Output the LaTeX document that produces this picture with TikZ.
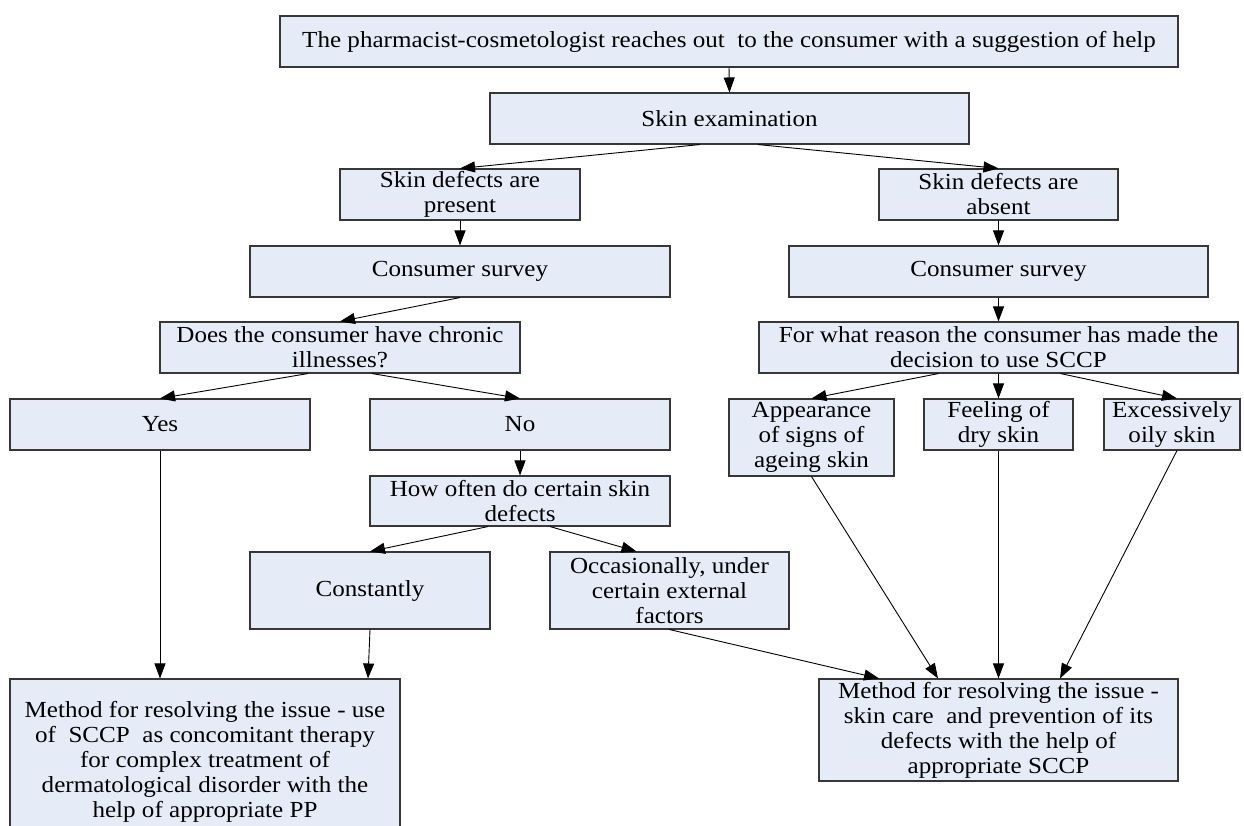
\documentclass[tikz,border=0pt]{standalone}
\usepackage{fontspec}
\setmainfont{Liberation Serif}[FakeStretch=1.09]
\usetikzlibrary{arrows.meta}
\definecolor{boxfill}{RGB}{229,236,247}
\definecolor{boxdraw}{RGB}{55,55,55}
\begin{document}
\begin{tikzpicture}[x=1pt,y=-1pt,
  box/.style={draw=boxdraw,line width=1.1pt,fill=boxfill,inner sep=0pt,align=center,
    font=\fontsize{23}{25}\selectfont},
  arr/.style={-{Triangle[length=15pt,width=11pt]},line width=0.9pt,draw=black}]
\clip (0,0) rectangle (1244,825);
\fill[white] (0,0) rectangle (1244,825);
\node[box,minimum width=898pt,minimum height=51pt] (top) at (729,41.5) {The pharmacist-cosmetologist reaches out\ \ to the consumer with a suggestion of help};
\node[box,minimum width=479pt,minimum height=51pt] (exam) at (729.5,118.5) {Skin examination};
\node[box,minimum width=240pt,minimum height=51pt] (present) at (460,194.5) {Skin defects are\\present};
\node[box,minimum width=239pt,minimum height=51pt] (absent) at (998.5,194.5) {Skin defects are\\absent};
\node[box,minimum width=420pt,minimum height=51pt] (surveyL) at (460,271.5) {Consumer survey};
\node[box,minimum width=419pt,minimum height=51pt] (surveyR) at (998.5,271.5) {Consumer survey};
\node[box,minimum width=360pt,minimum height=51pt] (chronic) at (340,347.5) {Does the consumer have chronic\\illnesses?};
\node[box,minimum width=479pt,minimum height=51pt] (reason) at (998.5,347.5) {For what reason the consumer has made the\\decision to use SCCP};
\node[box,minimum width=300pt,minimum height=51pt] (yes) at (160,424.5) {Yes};
\node[box,minimum width=300pt,minimum height=51pt] (no) at (520,424.5) {No};
\node[box,minimum width=165pt,minimum height=77pt] (appear) at (811.5,437.5) {Appearance\\of signs of\\ageing skin};
\node[box,minimum width=149pt,minimum height=51pt] (feel) at (998.5,424.5) {Feeling of\\dry skin};
\node[box,minimum width=136pt,minimum height=51pt] (oily) at (1172,424.5) {Excessively\\oily skin};
\node[box,minimum width=300pt,minimum height=50pt] (how) at (520,501) {How often do certain skin\\defects};
\node[box,minimum width=240pt,minimum height=77pt] (const) at (370,590.5) {Constantly};
\node[box,minimum width=239pt,minimum height=77pt] (occ) at (669.5,590.5) {Occasionally, under\\certain external\\factors};
\node[box,minimum width=390pt,minimum height=166pt] (methodL) at (205,762) {Method for resolving the issue - use\\of\ \ SCCP\ \ as concomitant therapy\\for complex treatment of\\dermatological disorder with the\\help of appropriate PP};
\node[box,minimum width=359pt,minimum height=102pt] (methodR) at (998.5,730) {Method for resolving the issue -\\skin care\ \ and prevention of its\\defects with the help of\\appropriate SCCP};
\draw[arr] (top.south) -- (exam.north);
\draw[arr] ([xshift=-29.5pt]exam.south) -- (present.north);
\draw[arr] ([xshift=28.5pt]exam.south) -- (absent.north);
\draw[arr] (present.south) -- (surveyL.north);
\draw[arr] (absent.south) -- (surveyR.north);
\draw[arr] (surveyL.south) -- (chronic.north);
\draw[arr] (surveyR.south) -- (reason.north);
\draw[arr] ([xshift=-32pt]chronic.south) -- (yes.north);
\draw[arr] ([xshift=32pt]chronic.south) -- (no.north);
\draw[arr] ([xshift=-60pt]reason.south) -- (appear.north);
\draw[arr] (reason.south) -- (feel.north);
\draw[arr] ([xshift=62pt]reason.south) -- ([xshift=5pt]oily.north);
\draw[arr] (no.south) -- (how.north);
\draw[arr] ([xshift=-32pt]how.south) -- (const.north);
\draw[arr] ([xshift=30pt]how.south) -- ([xshift=-33pt]occ.north);
\draw[arr] (yes.south) -- (yes.south |- methodL.north);
\draw[arr] (const.south) -- ([xshift=163pt]methodL.north);
\draw[arr] (occ.south) -- ([xshift=-119.5pt]methodR.north);
\draw[arr] (appear.south) -- ([xshift=-60.5pt]methodR.north);
\draw[arr] (feel.south) -- (methodR.north);
\draw[arr] ([xshift=5pt]oily.south) -- ([xshift=61.5pt]methodR.north);
\end{tikzpicture}
\end{document}
